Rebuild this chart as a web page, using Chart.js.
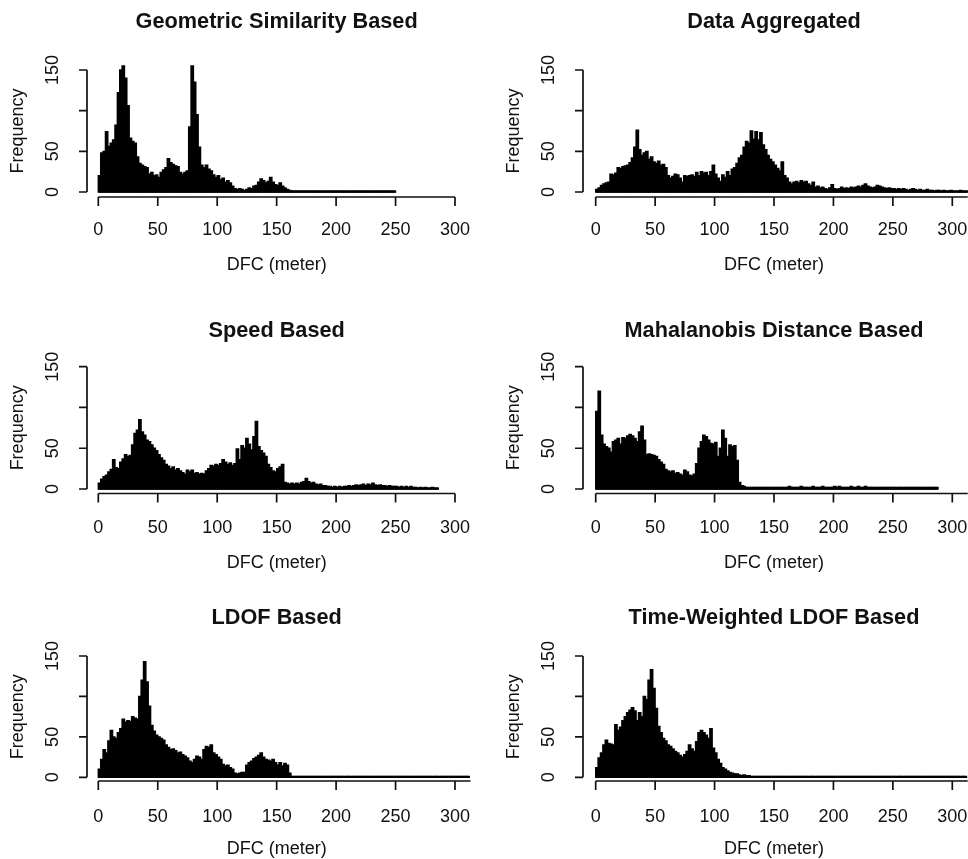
<!DOCTYPE html>
<html>
<head>
<meta charset="utf-8">
<script src="https://cdn.jsdelivr.net/npm/chart.js@4.4.1/dist/chart.umd.min.js"></script>
<style>
html,body{margin:0;padding:0;background:#fff;}
#wrap{position:relative;width:968px;height:859px;overflow:hidden;background:#fff;}
canvas{position:absolute;}
</style>
</head>
<body>
<div id="wrap">
<canvas id="c0" width="484" height="290" style="left:0;top:0"></canvas>
<canvas id="c1" width="484" height="290" style="left:484px;top:0"></canvas>
<canvas id="c2" width="484" height="290" style="left:0;top:290px"></canvas>
<canvas id="c3" width="484" height="290" style="left:484px;top:290px"></canvas>
<canvas id="c4" width="484" height="279" style="left:0;top:580px"></canvas>
<canvas id="c5" width="484" height="279" style="left:484px;top:580px"></canvas>
</div>
<script>
// ---------- data (2-metre bins starting at 0) ----------
const binWidth = 2;
const titles = ["Geometric Similarity Based", "Data Aggregated", "Speed Based",
                "Mahalanobis Distance Based", "LDOF Based", "Time-Weighted LDOF Based"];
const xLabel = "DFC (meter)";
const yLabel = "Frequency";
const xTicks = [0, 50, 100, 150, 200, 250, 300];
const yTicks = [0, 50, 100, 150];
const yTickLabels = ["0", "50", "", "150"];   // R drops the "100" label (overlap)

const geoSimilarity = [
 20,48,50,74,56,60,64,82,122,150,
 155,140,106,66,62,60,43,35,33,31,
 30,22,24,20,21,18,24,27,30,41,
 36,34,32,31,24,22,24,26,80,155,
 135,95,55,33,30,33,28,26,21,18,
 20,15,17,12,14,11,7,4,3,4,
 3,2,3,5,4,7,8,12,16,14,
 11,13,18,12,9,8,11,7,5,3,
 2,1,1,1,1,1,1,1,1,1,
 1,1,1,1,1,1,1,1,1,1,
 1,1,1,1,1,1,1,1,1,1,
 1,1,1,1,1,1,1,1,1,1,
 1,1,1,1,1
];
const dataAggregated = [
 3,5,8,10,11,12,22,21,23,30,
 29,31,32,33,36,42,55,76,52,45,
 48,50,40,43,37,35,38,33,34,30,
 20,17,19,22,21,17,12,20,19,20,
 21,19,24,20,25,23,24,20,25,33,
 22,17,13,21,18,25,20,28,30,35,
 42,45,55,62,60,75,65,74,64,73,
 58,52,45,40,37,33,29,26,37,20,
 17,12,10,12,13,11,14,12,13,10,
 8,12,6,7,5,6,4,3,5,9,
 4,3,4,6,4,5,4,6,5,6,
 7,6,8,10,7,6,5,6,8,7,
 6,5,4,5,4,4,3,4,3,4,
 3,2,3,4,3,2,3,2,2,3,
 2,2,1,2,2,1,2,1,1,2,
 1,1,1,2,1,1,1
];
const speedBased = [
 7,12,15,17,21,24,36,26,25,33,
 37,42,40,41,54,68,72,85,70,66,
 60,58,54,50,47,42,38,35,30,28,
 25,27,23,25,22,20,18,23,21,23,
 19,20,18,19,18,22,25,29,28,30,
 29,31,36,33,30,32,29,31,49,36,
 53,50,62,55,48,64,83,52,47,44,
 40,30,26,22,21,25,27,30,8,7,
 6,7,6,7,6,8,9,13,9,7,
 8,6,5,6,4,4,3,3,2,3,
 2,3,2,3,3,4,3,4,5,4,
 5,6,4,6,5,7,5,4,5,4,
 4,3,4,3,3,3,2,3,2,3,
 2,3,2,2,1,2,1,2,1,1,
 2,1,1
];
const mahalanobisBased = [
 95,120,66,55,52,50,45,58,60,62,
 55,63,62,65,67,65,62,58,70,77,
 60,42,43,42,41,40,36,33,30,24,
 22,21,22,19,20,18,17,23,21,17,
 16,18,31,50,58,66,64,60,56,55,
 57,40,50,72,62,40,54,52,53,35,
 8,4,3,2,2,2,2,2,2,2,
 2,2,2,2,2,2,2,2,2,2,
 2,3,2,2,2,2,3,2,2,2,
 2,3,2,2,2,3,2,2,2,2,
 3,2,3,2,2,2,2,3,2,2,
 3,2,2,3,2,2,2,2,2,2,
 2,2,2,2,2,2,2,2,2,2,
 2,2,2,2,2,2,2,2,2,2,
 2,2,2,2
];
const ldofBased = [
 10,22,34,30,45,58,50,48,55,60,
 72,68,70,69,75,73,72,100,120,143,
 118,88,64,57,52,50,48,46,40,37,
 34,35,33,30,31,28,26,24,20,18,
 22,26,25,22,34,38,37,40,30,28,
 25,22,16,14,15,12,10,5,4,5,
 6,6,15,18,20,23,25,27,30,25,
 22,21,20,22,18,15,18,14,17,15,
 5,1,1,1,1,1,1,1,1,1,
 1,1,1,1,1,1,1,1,1,1,
 1,1,1,1,1,1,1,1,1,1,
 1,1,1,1,1,1,1,1,1,1,
 1,1,1,1,1,1,1,1,1,1,
 1,1,1,1,1,1,1,1,1,1,
 1,1,1,1,1,1,1,1,1,1,
 1,1,1,1,1,1
];
const twLdofBased = [
 12,24,30,40,46,42,41,40,65,58,
 62,70,75,80,83,86,82,70,80,75,
 100,96,120,133,110,85,63,55,48,45,
 40,38,35,32,30,27,25,28,32,40,
 35,32,44,55,58,55,52,48,60,36,
 30,22,17,12,10,8,6,5,4,4,
 3,2,3,2,2,1,1,1,1,1,
 1,1,1,1,1,1,1,1,1,1,
 1,1,1,1,1,1,1,1,1,1,
 1,1,1,1,1,1,1,1,1,1,
 1,1,1,1,1,1,1,1,1,1,
 1,1,1,1,1,1,1,1,1,1,
 1,1,1,1,1,1,1,1,1,1,
 1,1,1,1,1,1,1,1,1,1,
 1,1,1,1,1,1,1,1,1,1,
 1,1,1,1,1,1
];
const seriesList = [geoSimilarity, dataAggregated, speedBased, mahalanobisBased, ldofBased, twLdofBased];

// ---------- layout (page pixel calibration of each panel) ----------
const rows = [
  {canvasTop:0,   h:290, zeroY:192,   y150:70,    axisY:197,   tickLabelY:230, axisTitleY:265, titleY:22},
  {canvasTop:290, h:290, zeroY:489,   y150:366.7, axisY:493.5, tickLabelY:528, axisTitleY:563, titleY:331},
  {canvasTop:580, h:279, zeroY:777.3, y150:656,   axisY:781,   tickLabelY:817, axisTitleY:849, titleY:618}
];
const cols = [
  {canvasLeft:0,   w:484, axisX:87,  zeroX:98.3,  x300:455},
  {canvasLeft:484, w:484, axisX:583, zeroX:595.7, x300:952.3}
];
const X_MAX = 313, Y_MAX = 170;
const FONT = "'Liberation Sans', Arial, Helvetica, sans-serif";
const INK = '#111';

function axisPlugin(title, nBins, extendAxis, row, col) {
  return {
    id: 'rAxes',
    afterDatasetsDraw(chart) {
      const ctx = chart.ctx, xs = chart.scales.x, ys = chart.scales.y;
      ctx.save();
      // histogram outline along zero
      ctx.strokeStyle = '#000'; ctx.lineWidth = 1.8;
      ctx.beginPath();
      ctx.moveTo(xs.getPixelForValue(0), ys.getPixelForValue(0) - 0.5);
      ctx.lineTo(xs.getPixelForValue(nBins * binWidth), ys.getPixelForValue(0) - 0.5);
      ctx.stroke();
      ctx.restore();
    },
    afterDraw(chart) {
      const ctx = chart.ctx, xs = chart.scales.x, ys = chart.scales.y, ca = chart.chartArea;
      const ct = row.canvasTop;
      ctx.save();
      ctx.strokeStyle = INK; ctx.fillStyle = INK; ctx.lineWidth = 1.7; ctx.lineCap = 'butt';
      // y axis
      const ax = ca.left;
      ctx.beginPath();
      ctx.moveTo(ax, ys.getPixelForValue(yTicks[0]));
      ctx.lineTo(ax, ys.getPixelForValue(yTicks[yTicks.length - 1]));
      yTicks.forEach(v => { const p = ys.getPixelForValue(v); ctx.moveTo(ax, p); ctx.lineTo(ax - 8, p); });
      ctx.stroke();
      ctx.font = '18px ' + FONT;
      ctx.textAlign = 'center'; ctx.textBaseline = 'middle';
      yTicks.forEach((v, k) => {
        if (!yTickLabels[k]) return;
        const p = ys.getPixelForValue(v);
        ctx.save(); ctx.translate(ax - 34, p); ctx.rotate(-Math.PI / 2);
        ctx.fillText(yTickLabels[k], 0, 0); ctx.restore();
      });
      ctx.save();
      ctx.translate(ax - 69, (ys.getPixelForValue(0) + ys.getPixelForValue(150)) / 2);
      ctx.rotate(-Math.PI / 2); ctx.fillText(yLabel, 0, 0); ctx.restore();
      // x axis
      const ay = ca.bottom;
      ctx.beginPath();
      ctx.moveTo(xs.getPixelForValue(xTicks[0]), ay);
      ctx.lineTo(extendAxis ? ca.right : xs.getPixelForValue(xTicks[xTicks.length - 1]), ay);
      xTicks.forEach(v => { const p = xs.getPixelForValue(v); ctx.moveTo(p, ay); ctx.lineTo(p, ay + 9); });
      ctx.stroke();
      xTicks.forEach(v => ctx.fillText(String(v), xs.getPixelForValue(v), row.tickLabelY - ct));
      const cx = xs.getPixelForValue(150);
      ctx.fillText(xLabel, cx, row.axisTitleY - ct);
      ctx.font = 'bold 21.7px ' + FONT;
      ctx.fillText(title, cx, row.titleY - ct);
      ctx.restore();
    }
  };
}

const extendAxes = [false, true, false, true, true, true];

seriesList.forEach((vals, i) => {
  const row = rows[Math.floor(i / 2)], col = cols[i % 2];
  const ppm = (col.x300 - col.zeroX) / 300;
  const ppu = (row.zeroY - row.y150) / 150;
  const xMin = -(col.zeroX - col.axisX) / ppm;
  const yMin = -(row.axisY - row.zeroY) / ppu;
  const padLeft = col.axisX - col.canvasLeft;
  const padRight = Math.max(0, col.w - (col.zeroX + X_MAX * ppm - col.canvasLeft));
  const padBottom = row.h - (row.axisY - row.canvasTop);
  const padTop = (row.zeroY - Y_MAX * ppu) - row.canvasTop;
  const xmaxUsed = (col.w - padRight - padLeft) / ppm + xMin;
  new Chart(document.getElementById('c' + i), {
    type: 'bar',
    data: {
      datasets: [{
        label: titles[i],
        data: vals.map((v, k) => ({x: k * binWidth + binWidth / 2, y: v})),
        backgroundColor: '#000',
        borderWidth: 0,
        barPercentage: 1,
        categoryPercentage: 1,
        inflateAmount: 0.7
      }]
    },
    options: {
      responsive: false,
      animation: false,
      devicePixelRatio: 1,
      layout: {padding: {left: padLeft, right: padRight, top: padTop, bottom: padBottom}},
      plugins: {legend: {display: false}, title: {display: false}, tooltip: {enabled: false}},
      scales: {
        x: {type: 'linear', min: xMin, max: xmaxUsed, display: false, offset: false},
        y: {type: 'linear', min: yMin, max: Y_MAX, display: false}
      }
    },
    plugins: [axisPlugin(titles[i], vals.length, extendAxes[i], row, col)]
  });
});
</script>
</body>
</html>
